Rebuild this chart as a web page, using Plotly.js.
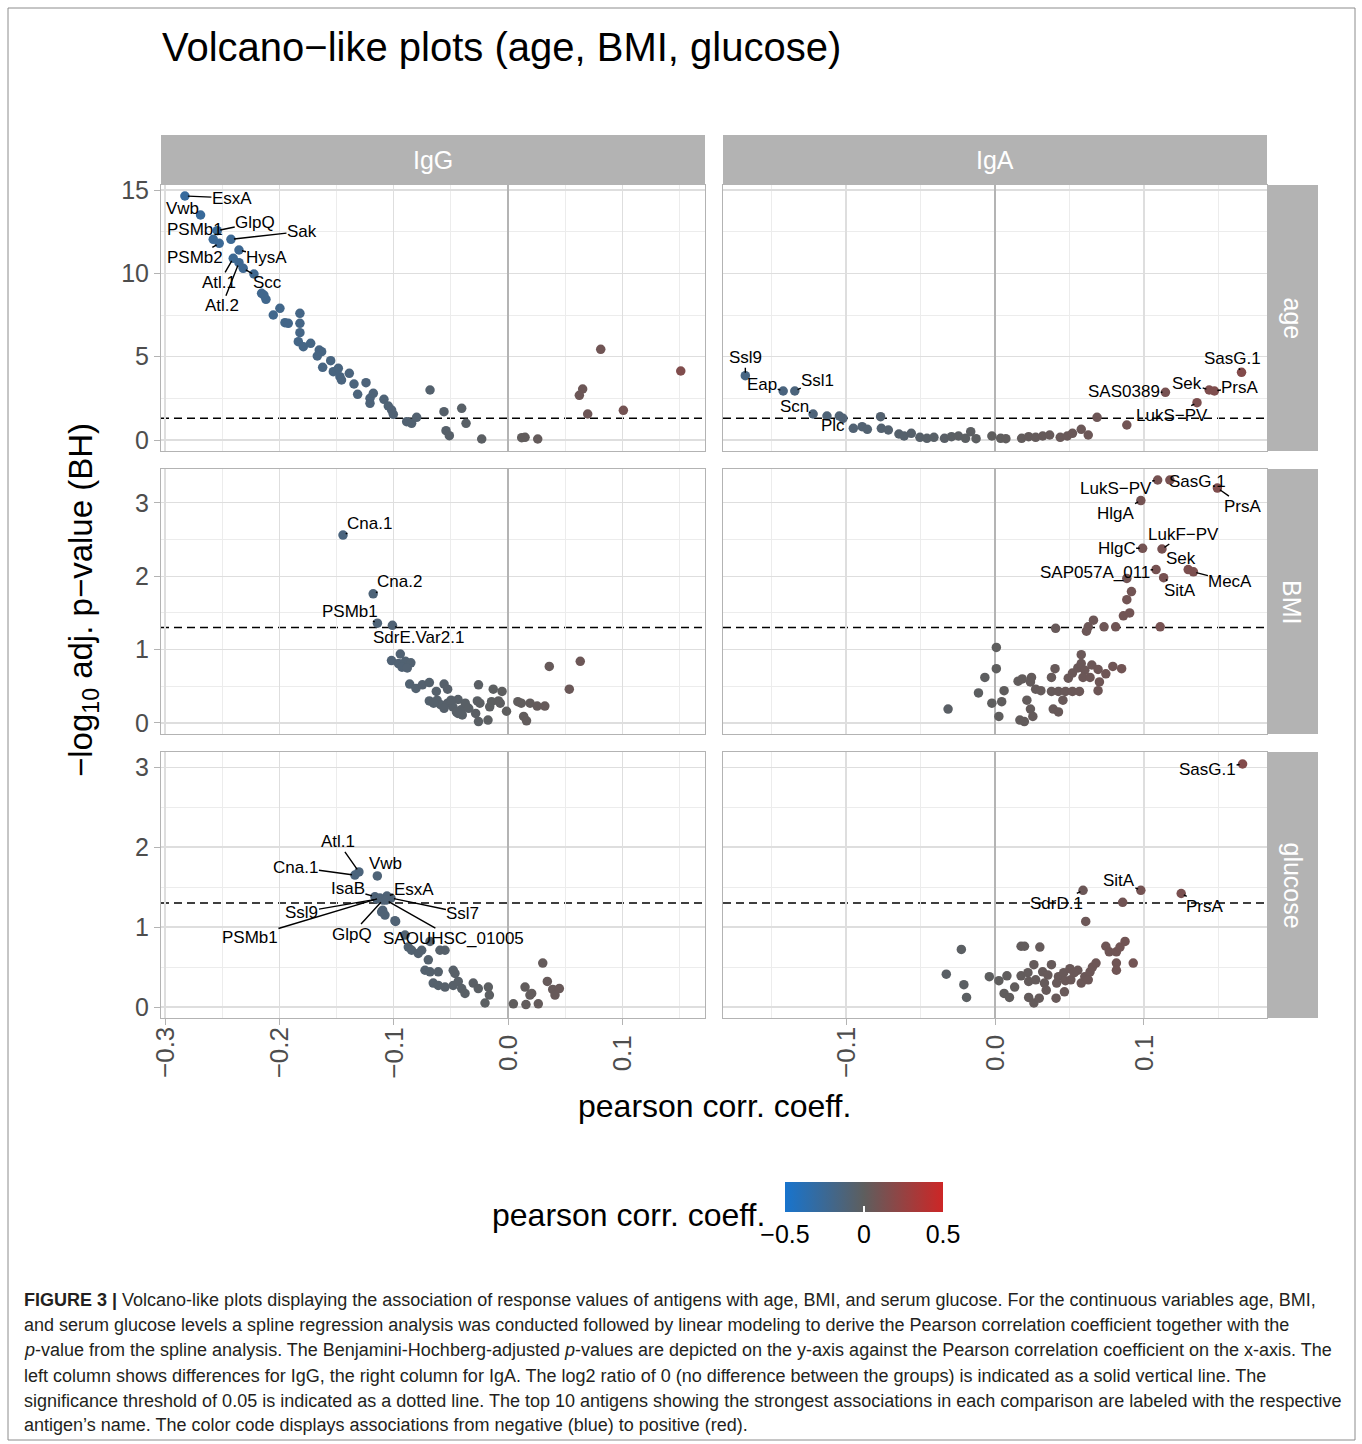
<!DOCTYPE html>
<html>
<head>
<meta charset="utf-8">
<script src="https://cdn.plot.ly/plotly-3.0.1.min.js"></script>
<style>
html,body{margin:0;padding:0;background:#fff;}
#chart{width:1362px;height:1444px;}
</style>
</head>
<body>
<div id="chart"></div>
<script>
// ---------------- DATA ----------------
const rows = ['age', 'BMI', 'glucose'];
const cols = ['IgG', 'IgA'];
const pThreshold = 0.05;

// age / IgG
const ageIgG_x = [-0.2826,-0.2689,-0.2543,-0.2578,-0.2526,-0.2423,-0.2353,-0.2403,-0.2353,-0.2316,
  -0.2222,-0.2155,-0.2117,-0.2135,-0.2053,-0.1995,-0.1820,-0.1951,-0.1922,-0.1820,
  -0.1820,-0.1834,-0.1790,-0.1726,-0.1651,-0.1630,-0.1668,-0.1551,-0.1621,-0.1528,
  -0.1484,-0.1470,-0.1456,-0.1388,-0.1347,-0.1242,-0.1315,-0.1207,-0.1178,-0.1207,
  -0.1085,-0.1047,-0.1018,-0.1003,-0.0886,-0.0843,-0.0799,-0.0682,-0.0560,-0.0405,
  -0.0367,-0.0542,-0.0513,-0.0230,0.0120,0.0149,0.0260,0.0811,0.0653,0.0624,
  0.0697,0.1009,0.1511];
const ageIgG_y = [14.64,13.50,12.56,12.04,11.80,12.04,11.40,10.90,10.64,10.30,
  9.96,8.80,8.44,8.70,7.50,7.90,7.60,7.04,7.00,7.00,
  6.44,5.90,5.60,5.80,5.40,5.30,5.04,4.76,4.36,4.10,
  4.30,3.80,3.60,4.00,3.36,3.44,2.74,2.50,2.80,2.20,
  2.44,2.04,1.80,1.54,1.10,1.00,1.36,3.00,1.70,1.90,
  1.00,0.56,0.26,0.06,0.14,0.16,0.06,5.44,3.06,2.68,
  1.56,1.78,4.14];
const ageIgG_labelNames = ['EsxA','Vwb','PSMb1','GlpQ','PSMb2','Sak','HysA','Atl.1','Atl.2','Scc'];
const ageIgG_labelX = [-0.2826,-0.2689,-0.2578,-0.2543,-0.2526,-0.2423,-0.2353,-0.2403,-0.2353,-0.2316];
const ageIgG_labelY = [14.64,13.50,12.04,12.56,11.80,12.04,11.40,10.90,10.64,10.30];

// age / IgA
const ageIgA_x = [-0.1676,-0.1422,-0.1344,-0.1221,-0.1128,-0.1045,-0.1021,-0.0768,-0.0951,-0.0892,
  -0.0857,-0.0763,-0.0716,-0.0645,-0.0610,-0.0562,-0.0504,-0.0457,-0.0410,-0.0339,
  -0.0292,-0.0245,-0.0198,-0.0163,-0.0127,-0.0021,0.0038,0.0073,0.0179,0.0226,
  0.0273,0.0320,0.0367,0.0438,0.0485,0.0520,0.0579,0.0626,0.0685,0.0885,
  0.1144,0.1356,0.1438,0.1473,0.1655];
const ageIgA_y = [3.86,2.94,2.94,1.56,1.44,1.44,1.30,1.40,0.70,0.80,
  0.64,0.70,0.60,0.36,0.24,0.40,0.16,0.10,0.16,0.10,
  0.20,0.24,0.10,0.50,0.08,0.24,0.10,0.08,0.10,0.20,
  0.16,0.24,0.30,0.16,0.24,0.40,0.64,0.30,1.36,0.90,
  2.86,2.24,3.00,2.94,4.06];
const ageIgA_labelNames = ['Ssl9','Eap','Ssl1','Scn','Plc','SAS0389','Sek','PrsA','SasG.1','LukS\u2212PV'];
const ageIgA_labelX = [-0.1676,-0.1422,-0.1344,-0.1221,-0.1128,0.1144,0.1438,0.1473,0.1655,0.1356];
const ageIgA_labelY = [3.86,2.94,2.94,1.56,1.44,2.86,3.00,2.94,4.06,2.24];

// BMI / IgG
const bmiIgG_x = [-0.1443,-0.1179,-0.1142,-0.1011,-0.0942,-0.1019,-0.0958,-0.0897,-0.0850,-0.0927,
  -0.0881,-0.0860,-0.0805,-0.0749,-0.0688,-0.0559,-0.0627,-0.0528,-0.0688,-0.0620,
  -0.0590,-0.0528,-0.0482,-0.0437,-0.0411,-0.0374,-0.0344,-0.0437,-0.0400,-0.0283,
  -0.0258,-0.0268,-0.0246,-0.0258,-0.0175,-0.0160,-0.0129,-0.0144,-0.0052,-0.0083,
  -0.0068,-0.0013,0.0086,0.0116,0.0193,0.0255,0.0322,0.0137,0.0162,0.0361,
  0.0632,0.0536,-0.0651,-0.0498,-0.0559,-0.0451];
const bmiIgG_y = [2.56,1.76,1.36,1.33,0.94,0.85,0.81,0.84,0.82,0.76,
  0.75,0.53,0.47,0.52,0.55,0.53,0.43,0.46,0.30,0.31,
  0.25,0.27,0.22,0.32,0.18,0.27,0.20,0.13,0.11,0.13,
  0.52,0.30,0.27,0.02,0.04,0.22,0.46,0.29,0.43,0.30,
  0.27,0.16,0.29,0.27,0.27,0.23,0.23,0.09,0.03,0.77,
  0.84,0.46,0.27,0.31,0.20,0.15];
const bmiIgG_labelNames = ['Cna.1','Cna.2','PSMb1','SdrE.Var2.1'];
const bmiIgG_labelX = [-0.1443,-0.1179,-0.1142,-0.1011];
const bmiIgG_labelY = [2.56,1.76,1.36,1.33];

// BMI / IgA
const bmiIgA_x = [0.1092,0.1174,0.1493,0.0979,0.0991,0.1121,0.1081,0.1297,0.1332,0.1132,
  0.0885,0.0916,0.0885,0.0862,0.0904,0.1109,0.0407,0.0614,0.0626,0.0661,
  0.0732,0.0810,0.0009,0.0009,-0.0068,-0.0111,-0.0315,-0.0021,0.0045,0.0061,
  0.0026,0.0155,0.0183,0.0245,0.0238,0.0273,0.0308,0.0214,0.0238,0.0254,
  0.0167,0.0197,0.0379,0.0403,0.0379,0.0426,0.0473,0.0520,0.0567,0.0456,
  0.0391,0.0426,0.0492,0.0520,0.0556,0.0579,0.0579,0.0603,0.0591,0.0638,
  0.0650,0.0692,0.0701,0.0692,0.0744,0.0791,0.0850];
const bmiIgA_y = [3.31,3.31,3.20,3.03,2.38,2.37,2.09,2.09,2.06,1.98,
  1.97,1.79,1.68,1.46,1.50,1.31,1.29,1.25,1.31,1.40,
  1.31,1.31,1.03,0.74,0.62,0.41,0.19,0.27,0.29,0.44,
  0.09,0.57,0.60,0.62,0.56,0.46,0.44,0.31,0.19,0.09,
  0.04,0.02,0.62,0.74,0.43,0.43,0.43,0.43,0.43,0.31,
  0.19,0.15,0.61,0.68,0.75,0.93,0.81,0.72,0.62,0.62,
  0.79,0.73,0.56,0.44,0.67,0.77,0.74];
const bmiIgA_labelNames = ['LukS\u2212PV','SasG.1','PrsA','HlgA','HlgC','LukF\u2212PV','SAP057A_011','Sek','MecA','SitA'];
const bmiIgA_labelX = [0.1092,0.1174,0.1493,0.0979,0.0991,0.1121,0.1081,0.1297,0.1332,0.1132];
const bmiIgA_labelY = [3.31,3.31,3.20,3.03,2.38,2.37,2.09,2.09,2.06,1.98];

// glucose / IgG
const gluIgG_x = [-0.1304,-0.1339,-0.1143,-0.1164,-0.1059,-0.1146,-0.1024,-0.1120,-0.1094,-0.1067,
  -0.1096,-0.1105,-0.1076,-0.0989,-0.0983,-0.0901,-0.0872,-0.0843,-0.0785,-0.0755,
  -0.0682,-0.0595,-0.0551,-0.0697,-0.0726,-0.0682,-0.0610,-0.0479,-0.0464,-0.0654,
  -0.0610,-0.0551,-0.0479,-0.0435,-0.0405,-0.0376,-0.0304,-0.0260,-0.0172,-0.0163,
  -0.0201,0.0047,0.0157,0.0265,0.0149,0.0192,0.0207,0.0304,0.0344,0.0391,
  0.0411,0.0449];
const gluIgG_y = [1.69,1.65,1.64,1.379,1.388,1.35,1.363,1.363,1.338,1.338,
  1.21,1.19,1.15,1.08,1.07,0.90,0.75,0.71,0.67,0.71,
  0.82,0.71,0.71,0.59,0.46,0.44,0.44,0.46,0.42,0.30,
  0.27,0.25,0.27,0.32,0.23,0.17,0.30,0.23,0.25,0.15,
  0.05,0.04,0.03,0.04,0.25,0.15,0.17,0.55,0.32,0.22,
  0.15,0.23];
const gluIgG_labelNames = ['Atl.1','Cna.1','Vwb','IsaB','EsxA','Ssl9','Ssl7','PSMb1','GlpQ','SAOUHSC_01005'];
const gluIgG_labelX = [-0.1304,-0.1339,-0.1143,-0.1164,-0.1059,-0.1146,-0.1024,-0.1120,-0.1094,-0.1067];
const gluIgG_labelY = [1.69,1.65,1.64,1.379,1.388,1.35,1.363,1.363,1.338,1.338];

// glucose / IgA
const gluIgA_x = [0.1662,0.0979,0.0591,0.1250,0.0857,0.0609,-0.0226,-0.0327,-0.0209,-0.0191,
  -0.0038,0.0026,0.0080,0.0061,0.0097,0.0132,0.0175,0.0198,0.0301,0.0175,
  0.0221,0.0261,0.0226,0.0273,0.0226,0.0261,0.0297,0.0320,0.0355,0.0332,
  0.0379,0.0344,0.0410,0.0426,0.0414,0.0461,0.0473,0.0466,0.0503,0.0509,
  0.0556,0.0579,0.0603,0.0638,0.0654,0.0678,0.0626,0.0744,0.0767,0.0815,
  0.0839,0.0873,0.0815,0.0815,0.0928,0.0532];
const gluIgA_y = [3.04,1.46,1.46,1.42,1.31,1.07,0.72,0.41,0.28,0.12,
  0.38,0.33,0.39,0.17,0.12,0.25,0.76,0.76,0.75,0.39,
  0.43,0.53,0.32,0.34,0.12,0.05,0.11,0.44,0.40,0.30,
  0.53,0.21,0.11,0.38,0.30,0.43,0.33,0.19,0.48,0.34,
  0.46,0.30,0.38,0.44,0.50,0.55,0.34,0.76,0.69,0.69,
  0.75,0.82,0.55,0.46,0.55,0.43];
const gluIgA_labelNames = ['SasG.1','SitA','SdrD.1','PrsA'];
const gluIgA_labelX = [0.1662,0.0979,0.0591,0.1250];
const gluIgA_labelY = [3.04,1.46,1.46,1.42];

const xTickValsIgG = [-0.3,-0.2,-0.1,0.0,0.1];
const xTickTextIgG = ['\u22120.3','\u22120.2','\u22120.1','0.0','0.1'];
const xTickValsIgA = [-0.1,0.0,0.1];
const xTickTextIgA = ['\u22120.1','0.0','0.1'];
const colorTickVals = [-0.5,0,0.5];
const colorTickText = ['\u22120.5','0','0.5'];

const captionLines = [
  '<b>FIGURE 3 |</b> Volcano-like plots displaying the association of response values of antigens with age, BMI, and serum glucose. For the continuous variables age, BMI,',
  'and serum glucose levels a spline regression analysis was conducted followed by linear modeling to derive the Pearson correlation coefficient together with the',
  '<i>p</i>-value from the spline analysis. The Benjamini-Hochberg-adjusted <i>p</i>-values are depicted on the y-axis against the Pearson correlation coefficient on the x-axis. The',
  'left column shows differences for IgG, the right column for IgA. The log2 ratio of 0 (no difference between the groups) is indicated as a solid vertical line. The',
  'significance threshold of 0.05 is indicated as a dotted line. The top 10 antigens showing the strongest associations in each comparison are labeled with the respective',
  'antigen\u2019s name. The color code displays associations from negative (blue) to positive (red).'
];

// ---------------- LAYOUT HELPERS ----------------
const W = 1362, H = 1444;
const PX = v => v / W;
const PY = v => 1 - v / H;
const FONT = 'Liberation Sans, Arial, Helvetica, sans-serif';

// label offsets in pixels (text centre relative to point)
const labelShift = {
  ageIgG: [[47,2],[-18,-7],[-18,-10],[38,-8],[-24,14],[71,-8],[28,7],[-14,24],[-17,43],[24,14]],
  ageIgA: [[0,-18],[-21,-7],[23,-11],[-19,-8],[6,9],[-41,-1],[-22,-7],[26,-4],[-9,-14],[-25,13]],
  bmiIgG: [[26,-12],[26,-12],[-27,-12],[26,12]],
  bmiIgA: [[-42,8],[28,1],[26,18],[-25,13],[-26,0],[22,-15],[-61,3],[-7,-11],[37,10],[16,13]],
  gluIgG: [[-21,-30],[-59,-8],[8,-12],[-27,-8],[27,-7],[-75,13],[72,15],[-130,39],[-31,34],[67,38]],
  gluIgA: [[-35,6],[-22,-10],[-27,13],[24,13]]
};

const colDomains = [[PX(161), PX(705)], [PX(723), PX(1267)]];
const rowDomains = [[PY(451), PY(185)], [PY(734), PY(469)], [PY(1018), PY(752)]];
const colRanges = [[-0.3035, 0.1723], [-0.1826, 0.1826]];
const rowRanges = [[-0.66, 15.3], [-0.15, 3.46], [-0.1375, 3.19]];
const rowDtick = [5, 1, 1];

const panels = [
  {key:'ageIgG', x:ageIgG_x, y:ageIgG_y, ln:ageIgG_labelNames, lx:ageIgG_labelX, ly:ageIgG_labelY, r:0, c:0},
  {key:'ageIgA', x:ageIgA_x, y:ageIgA_y, ln:ageIgA_labelNames, lx:ageIgA_labelX, ly:ageIgA_labelY, r:0, c:1},
  {key:'bmiIgG', x:bmiIgG_x, y:bmiIgG_y, ln:bmiIgG_labelNames, lx:bmiIgG_labelX, ly:bmiIgG_labelY, r:1, c:0},
  {key:'bmiIgA', x:bmiIgA_x, y:bmiIgA_y, ln:bmiIgA_labelNames, lx:bmiIgA_labelX, ly:bmiIgA_labelY, r:1, c:1},
  {key:'gluIgG', x:gluIgG_x, y:gluIgG_y, ln:gluIgG_labelNames, lx:gluIgG_labelX, ly:gluIgG_labelY, r:2, c:0},
  {key:'gluIgA', x:gluIgA_x, y:gluIgA_y, ln:gluIgA_labelNames, lx:gluIgA_labelX, ly:gluIgA_labelY, r:2, c:1}
];

const colorscale = [[0, '#1874CD'], [0.5, '#5E5E5E'], [1, '#CD2626']];
const traces = [];
const annotations = [];
const shapes = [];
const layout = {
  width: W, height: H,
  margin: {l:0, r:0, t:0, b:0},
  paper_bgcolor: '#ffffff',
  plot_bgcolor: '#ffffff',
  showlegend: false,
  hovermode: false,
  font: {family: FONT, color: '#000'},
  title: {
    text: 'Volcano\u2212like plots (age, BMI, glucose)',
    x: PX(162), xanchor: 'left', y: PY(47), yanchor: 'middle',
    font: {size: 40, color: '#000', family: FONT}
  }
};

panels.forEach((p, i) => {
  const n = i + 1;
  const xa = n === 1 ? 'x' : 'x' + n;
  const ya = n === 1 ? 'y' : 'y' + n;
  const xKey = n === 1 ? 'xaxis' : 'xaxis' + n;
  const yKey = n === 1 ? 'yaxis' : 'yaxis' + n;
  const bottom = p.r === 2, left = p.c === 0;

  layout[xKey] = {
    domain: colDomains[p.c], anchor: ya, range: colRanges[p.c],
    tick0: 0, dtick: 0.1, showticklabels: false,
    ticks: bottom ? 'outside' : '', ticklen: 6, tickcolor: '#b3b3b3', tickwidth: 1,
    showgrid: true, gridcolor: '#dedede', gridwidth: 1.3,
    minor: {dtick: 0.05, tick0: 0, showgrid: true, gridcolor: '#ececec', gridwidth: 1},
    zeroline: true, zerolinecolor: '#b4b4b4', zerolinewidth: 2,
    showline: true, mirror: true, linecolor: '#b3b3b3', linewidth: 1,
    fixedrange: true
  };
  layout[yKey] = {
    domain: rowDomains[p.r], anchor: xa, range: rowRanges[p.r],
    tick0: 0, dtick: rowDtick[p.r], showticklabels: left,
    tickfont: {size: 25, color: '#4d4d4d', family: FONT},
    ticks: left ? 'outside' : '', ticklen: 6, tickcolor: '#b3b3b3', tickwidth: 1,
    showgrid: true, gridcolor: '#dedede', gridwidth: 1.3,
    minor: {dtick: rowDtick[p.r] / 2, tick0: 0, showgrid: true, gridcolor: '#ececec', gridwidth: 1},
    zeroline: false,
    showline: true, mirror: true, linecolor: '#b3b3b3', linewidth: 1,
    fixedrange: true
  };

  const tr = {
    type: 'scatter', mode: 'markers', x: p.x, y: p.y, xaxis: xa, yaxis: ya,
    marker: {
      size: 9.5, color: p.x, colorscale: colorscale, cmin: -0.5, cmax: 0.5,
      line: {width: 0}, showscale: i === 0
    },
    cliponaxis: false
  };
  if (i === 0) {
    tr.marker.colorbar = {
      orientation: 'h', x: PX(864), xanchor: 'center', y: PY(1182), yanchor: 'top',
      len: 158, lenmode: 'pixels', thickness: 30, thicknessmode: 'pixels',
      outlinewidth: 0, xpad: 0, ypad: 0,
      tickmode: 'array', tickvals: colorTickVals, ticktext: colorTickText,
      tickfont: {size: 25, color: '#000', family: FONT},
      ticks: 'inside', ticklen: 6, tickcolor: '#ffffff', tickwidth: 1.5
    };
  }
  traces.push(tr);

  // significance threshold
  shapes.push({
    type: 'line', xref: xa + ' domain', yref: ya, x0: 0, x1: 1,
    y0: -Math.log10(pThreshold), y1: -Math.log10(pThreshold),
    line: {color: '#000', width: 1.5, dash: '8px,5px'}, layer: 'below'
  });

  // repel-style labels
  const shifts = labelShift[p.key];
  p.ln.forEach((name, k) => {
    annotations.push({
      xref: xa, yref: ya, x: p.lx[k], y: p.ly[k], text: name,
      showarrow: true, arrowhead: 0, arrowwidth: 1.4, arrowcolor: '#000',
      ax: shifts[k][0], ay: shifts[k][1], standoff: 3,
      font: {size: 17, color: '#000', family: FONT}, borderpad: 0
    });
  });

  // x tick labels (bottom row), centred and rotated
  if (bottom) {
    const tv = p.c === 0 ? xTickValsIgG : xTickValsIgA;
    const tt = p.c === 0 ? xTickTextIgG : xTickTextIgA;
    tv.forEach((v, k) => {
      annotations.push({
        xref: xa, yref: 'paper', x: v, y: PY(1053), text: tt[k],
        showarrow: false, textangle: -90, xanchor: 'center', yanchor: 'middle',
        font: {size: 26, color: '#4d4d4d', family: FONT}
      });
    });
  }
});

// strips
cols.forEach((c, k) => {
  shapes.push({type: 'rect', xref: 'paper', yref: 'paper',
    x0: colDomains[k][0], x1: colDomains[k][1], y0: PY(185), y1: PY(135),
    fillcolor: '#b3b3b3', line: {width: 0}});
  annotations.push({xref: 'paper', yref: 'paper',
    x: (colDomains[k][0] + colDomains[k][1]) / 2, y: PY(160), text: c,
    showarrow: false, xanchor: 'center', yanchor: 'middle',
    font: {size: 25, color: '#ffffff', family: FONT}});
});
rows.forEach((r, k) => {
  shapes.push({type: 'rect', xref: 'paper', yref: 'paper',
    x0: PX(1267), x1: PX(1318), y0: rowDomains[k][0], y1: rowDomains[k][1],
    fillcolor: '#b3b3b3', line: {width: 0}});
  annotations.push({xref: 'paper', yref: 'paper',
    x: PX(1292.5), y: (rowDomains[k][0] + rowDomains[k][1]) / 2, text: r,
    showarrow: false, textangle: 90, xanchor: 'center', yanchor: 'middle',
    font: {size: 25, color: '#ffffff', family: FONT}});
});

// axis titles
annotations.push({xref: 'paper', yref: 'paper', x: PX(714), y: PY(1106),
  text: 'pearson corr. coeff.', showarrow: false, xanchor: 'center', yanchor: 'middle',
  font: {size: 32, color: '#000', family: FONT}});
annotations.push({xref: 'paper', yref: 'paper', x: PX(83), y: PY(600),
  text: '\u2212log<sub>10</sub> adj. p\u2212value (BH)', showarrow: false, textangle: -90,
  xanchor: 'center', yanchor: 'middle',
  font: {size: 33, color: '#000', family: FONT}});
// colour bar title
annotations.push({xref: 'paper', yref: 'paper', x: PX(767), y: PY(1215),
  text: 'pearson corr. coeff.', showarrow: false, xanchor: 'right', yanchor: 'middle',
  font: {size: 32, color: '#000', family: FONT}});

// caption
const capY = [1300, 1325, 1350, 1376, 1401, 1425];
captionLines.forEach((t, k) => {
  annotations.push({xref: 'paper', yref: 'paper', x: PX(22), y: PY(capY[k]),
    text: t, showarrow: false, xanchor: 'left', yanchor: 'middle',
    font: {size: 18, color: '#231f20', family: FONT}});
});

// outer frame
shapes.push({type: 'rect', xref: 'paper', yref: 'paper',
  x0: PX(8), x1: PX(1355), y0: PY(1440), y1: PY(8),
  line: {color: '#8c8c8c', width: 1}, fillcolor: 'rgba(0,0,0,0)'});

layout.annotations = annotations;
layout.shapes = shapes;

Plotly.newPlot('chart', traces, layout, {displayModeBar: false, staticPlot: true});
</script>
</body>
</html>
